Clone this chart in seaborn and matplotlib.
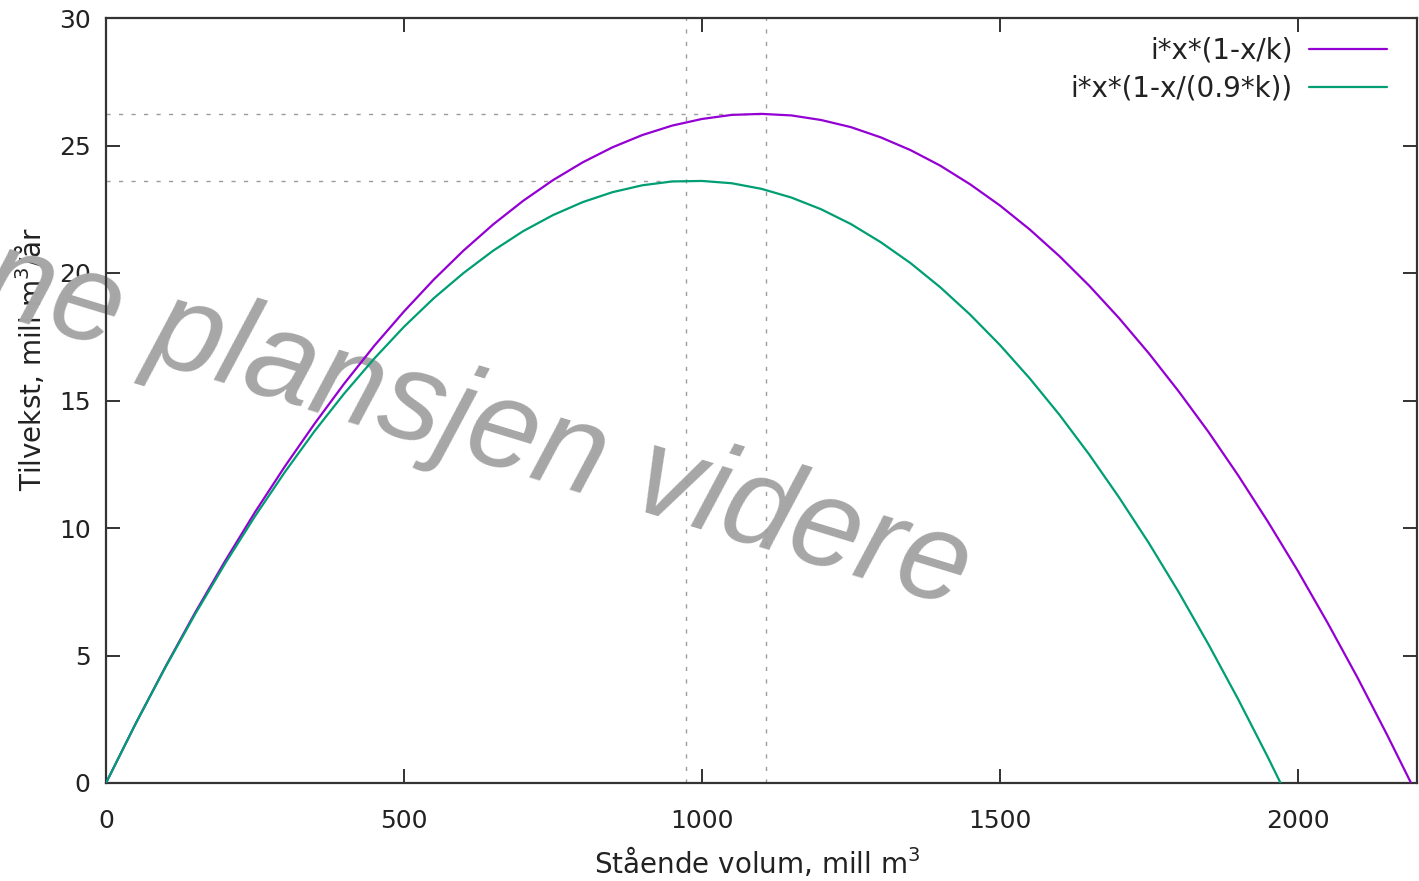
import matplotlib
matplotlib.use("Agg")
import matplotlib.pyplot as plt
import seaborn as sns

# ---- data ----
x_k = [0, 50, 100, 150, 200, 250, 300, 350, 400, 450, 500, 550, 600, 650, 700, 750,
       800, 850, 900, 950, 1000, 1050, 1100, 1150, 1200, 1250, 1300, 1350, 1400, 1450,
       1500, 1550, 1600, 1650, 1700, 1750, 1800, 1850, 1900, 1950, 2000, 2050, 2100,
       2150, 2190]
y_k = [0.0, 2.34, 4.57, 6.70, 8.71, 10.62, 12.41, 14.09, 15.67, 17.14, 18.49, 19.74,
       20.88, 21.91, 22.83, 23.64, 24.34, 24.93, 25.41, 25.78, 26.04, 26.20, 26.24,
       26.18, 26.00, 25.72, 25.32, 24.82, 24.21, 23.48, 22.65, 21.71, 20.66, 19.50,
       18.23, 16.85, 15.36, 13.77, 12.06, 10.24, 8.32, 6.28, 4.14, 1.88, 0.0]

x_09k = [0, 50, 100, 150, 200, 250, 300, 350, 400, 450, 500, 550, 600, 650, 700, 750,
         800, 850, 900, 950, 1000, 1050, 1100, 1150, 1200, 1250, 1300, 1350, 1400, 1450,
         1500, 1550, 1600, 1650, 1700, 1750, 1800, 1850, 1900, 1950, 1971]
y_09k = [0.0, 2.34, 4.55, 6.64, 8.61, 10.46, 12.19, 13.80, 15.28, 16.64, 17.89, 19.01,
         20.00, 20.88, 21.64, 22.27, 22.78, 23.17, 23.44, 23.59, 23.61, 23.52, 23.30,
         22.96, 22.50, 21.92, 21.21, 20.39, 19.44, 18.37, 17.18, 15.87, 14.44, 12.88,
         11.20, 9.41, 7.49, 5.44, 3.28, 1.00, 0.0]

series_labels = ["i*x*(1-x/k)", "i*x*(1-x/(0.9*k))"]
series_colors = ["#9400d3", "#009e73"]

guide_x = [973, 1107]      # vertical dashed guides
guide_y = [23.62, 26.24]   # horizontal dashed guides (paired with guide_x)

x_ticks = [0, 500, 1000, 1500, 2000]
y_ticks = [0, 5, 10, 15, 20, 25, 30]

xlabel = "Stående volum, mill m$^3$"
ylabel = "Tilvekst, mill m$^3$/år"
watermark = "denne plansjen videre"

# ---- style ----
sns.set_theme(style="ticks")
plt.rcParams['font.family'] = ['DejaVu Sans']
plt.rcParams['mathtext.fontset'] = 'dejavusans'

W, H = 1419, 881
fig = plt.figure(figsize=(W / 100, H / 100), dpi=100)
fig.patch.set_facecolor("white")
ax = fig.add_axes([106 / W, 1 - 783 / H, 1311 / W, 765 / H])
ax.set_facecolor("white")

for xs, ys, lab, col in [(x_k, y_k, series_labels[0], series_colors[0]),
                         (x_09k, y_09k, series_labels[1], series_colors[1])]:
    sns.lineplot(x=xs, y=ys, ax=ax, color=col, linewidth=1.6, label=lab, zorder=3,
                 estimator=None, sort=True)

dash = (0, (3, 6))
gcol = "#9c9c9c"
for gx, gy in zip(guide_x, guide_y):
    ax.hlines(gy, 0, gx, colors=gcol, linestyles=dash, linewidth=1.0, zorder=2)
ax.vlines(guide_x, 0, 30, colors=gcol, linestyles=dash, linewidth=1.0, zorder=2)

ax.set_xlim(0, 2200)
ax.set_ylim(0, 30)
ax.set_xticks(x_ticks)
ax.set_yticks(y_ticks)
ax.tick_params(direction="in", length=10, width=1.3, top=True, right=True,
               labelsize=18, colors="#222222")
ax.tick_params(axis="x", pad=19)
ax.tick_params(axis="y", pad=11)
for sp in ax.spines.values():
    sp.set_color("#333333")
    sp.set_linewidth(1.6)
    sp.set_visible(True)

ax.set_xlabel(xlabel, fontsize=20, color="#222222")
ax.xaxis.label.set_va("baseline")
ax.xaxis.set_label_coords((757 - 106) / 1311, (783 - 873) / 765)
ax.set_ylabel(ylabel, fontsize=20, color="#222222")
ax.yaxis.set_label_coords((47 - 106) / 1311, (783 - 359) / 765)

leg = ax.legend(loc="upper right", bbox_to_anchor=((1387 - 106) / 1311, 1 - (37 - 18) / 765),
                markerfirst=False, frameon=False, fontsize=20, handlelength=2.8,
                handletextpad=0.6, borderpad=0, borderaxespad=0, labelspacing=0.36)
for t in leg.get_texts():
    t.set_color("#222222")

ax.text(957 / W, 1 - 608 / H, watermark, transform=fig.transFigure,
        fontsize=91, family="Liberation Sans", style="italic", color="#a6a6a6",
        rotation=-17, rotation_mode="anchor", ha="right", va="baseline",
        clip_on=False, zorder=1)

fig.savefig("out.png", dpi=100, facecolor="white")
